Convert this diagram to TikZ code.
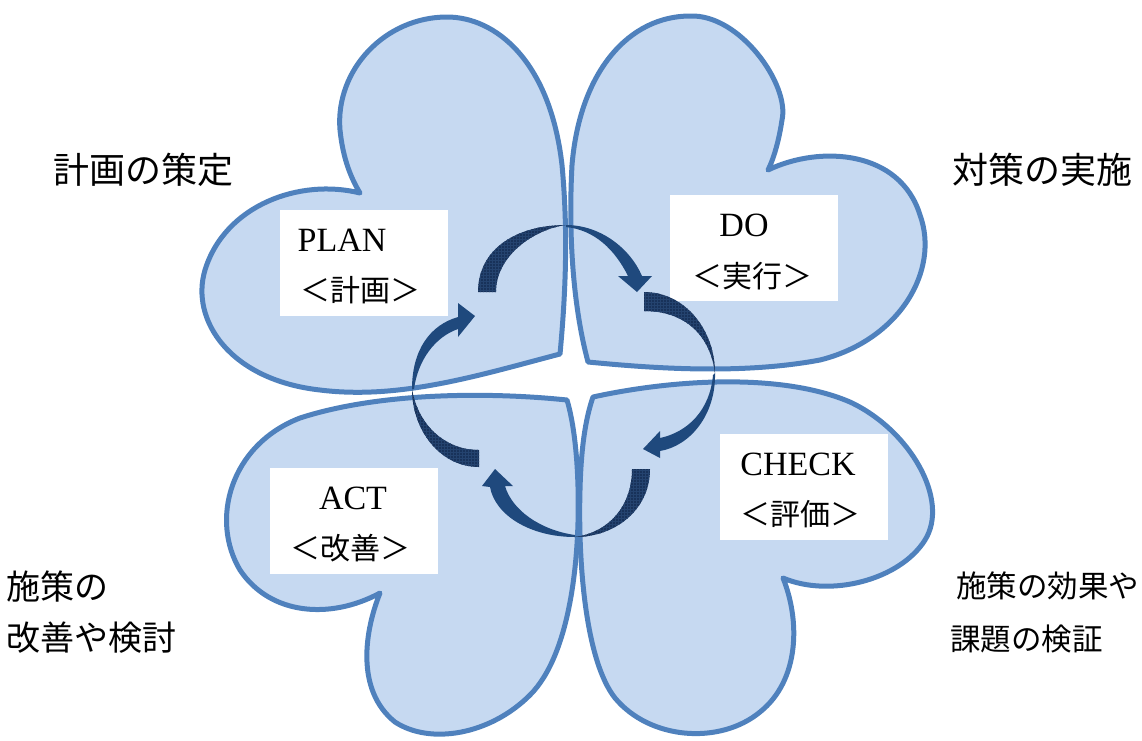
\documentclass[tikz,border=0pt]{standalone}
\usepackage{fontspec}
\setmainfont{Liberation Serif}
\newfontfamily\jp{Noto Sans CJK JP}
\usetikzlibrary{patterns}
\definecolor{heartfill}{HTML}{C6D9F1}
\definecolor{heartline}{HTML}{4F81BD}
\definecolor{arrowcol}{HTML}{1F497D}
\definecolor{tailbg}{HTML}{18325A}
\definecolor{tailgrid}{HTML}{24436F}
\newcommand{\hTL}{(560,354) .. controls (566,290) and (568,230) .. (562,165) .. controls (550,60) and (495,17) .. (447,17) .. controls (385,17) and (335,70) .. (340,130) .. controls (343,160) and (352,180) .. (360,193) .. controls (300,178) and (225,205) .. (205,270) .. controls (190,320) and (230,380) .. (320,390) .. controls (400,400) and (480,375) .. (560,354) -- cycle}
\newcommand{\hTR}{(588,362) .. controls (574,310) and (568,240) .. (572,165) .. controls (580,70) and (630,16) .. (690,16) .. controls (740,14) and (790,85) .. (782,120) .. controls (779,140) and (774,158) .. (768,170) .. controls (820,145) and (900,150) .. (920,215) .. controls (940,270) and (900,340) .. (820,360) .. controls (740,375) and (650,368) .. (588,362) -- cycle}
\newcommand{\hBL}{(567,400) .. controls (490,392) and (380,392) .. (300,418) .. controls (230,445) and (210,520) .. (240,570) .. controls (270,615) and (330,620) .. (380,593) .. controls (365,630) and (355,690) .. (395,722) .. controls (430,745) and (490,735) .. (530,695) .. controls (570,655) and (580,560) .. (578,487) .. controls (577,450) and (573,420) .. (567,400) -- cycle}
\newcommand{\hBR}{(593,397) .. controls (670,380) and (780,372) .. (850,402) .. controls (910,430) and (950,500) .. (925,540) .. controls (900,580) and (830,598) .. (783,578) .. controls (800,620) and (800,680) .. (760,712) .. controls (720,745) and (650,740) .. (615,698) .. controls (585,660) and (578,560) .. (580,490) .. controls (581,450) and (585,420) .. (593,397) -- cycle}
\begin{document}
\begin{tikzpicture}[x=1pt,y=-1pt,
  hfill/.style={fill=heartfill},
  hline/.style={draw=heartline, line width=5pt, line join=round},
  tailst/.style={fill=tailbg, postaction={pattern=grid, pattern color=tailgrid}},
  headst/.style={fill=arrowcol},
  boxst/.style={fill=white, inner sep=0pt, minimum width=168pt, minimum height=106pt},
  ttl/.style={font=\fontsize{34}{40}\selectfont, inner sep=0pt},
  subtxt/.style={font=\jp\fontsize{30}{36}\selectfont, inner sep=0pt},
  outlbl/.style={font=\jp\fontsize{36}{51}\selectfont, inner sep=0pt, align=left}]
\useasboundingbox (0,0) rectangle (1142,740);
% hearts: fills then outlines
\fill[hfill] \hTL;
\fill[hfill] \hTR;
\fill[hfill] \hBL;
\fill[hfill] \hBR;
\draw[hline] \hTL;
\draw[hline] \hTR;
\draw[hline] \hBL;
\draw[hline] \hBR;
% white label boxes
\node[boxst] (planbox) at (364,263) {};
\node[boxst] (dobox) at (754,248) {};
\node[boxst] (actbox) at (354,521) {};
\node[boxst] (checkbox) at (804,487) {};
\node[ttl] (plantitle) at (342,240) {PLAN};
\node[subtxt] (plansub) at (360,290) {＜計画＞};
\node[ttl] (dotitle) at (744,225) {DO};
\node[subtxt] (dosub) at (752,276) {＜実行＞};
\node[ttl] (acttitle) at (353,498) {ACT};
\node[subtxt] (actsub) at (350,548) {＜改善＞};
\node[ttl] (checktitle) at (798,464) {CHECK};
\node[subtxt] (checksub) at (800,514) {＜評価＞};
% outer labels
\node[outlbl] (plandesc) at (143,170) {計画の策定};
\node[outlbl] (dodesc) at (1042,170) {対策の実施};
\node[outlbl, font=\jp\fontsize{34}{51}\selectfont, anchor=west] (actdesc) at (6,612) {施策の\\改善や検討};
\node[outlbl, font=\jp\fontsize{30.5}{53}\selectfont, anchor=west] (checkdesc) at (950,612) {\hspace*{6pt}施策の効果や\\課題の検証};
% cycle arrows: top
\fill[tailst] (478,292) .. controls (478,250) and (515,225) .. (566,225) .. controls (535,229) and (496,255) .. (496,292) -- cycle;
\fill[headst] (566,225) .. controls (600,225) and (630,248) .. (642,276) -- (652,276) -- (637,292) -- (618,276) -- (628,276) .. controls (615,250) and (595,230) .. (566,227) -- cycle;
% right
\fill[tailst] (644,292) .. controls (685,292) and (715,330) .. (715,373) .. controls (710,335) and (685,311) .. (644,311) -- cycle;
\fill[headst] (715,373) .. controls (716,415) and (690,446) .. (660,451) -- (660,458) -- (643,449) -- (660,431) -- (660,438) .. controls (688,432) and (710,410) .. (713,375) -- cycle;
% bottom
\fill[tailst] (650,469) .. controls (650,510) and (615,537) .. (575,537) .. controls (610,532) and (632,505) .. (632,469) -- cycle;
\fill[headst] (575,537) .. controls (530,537) and (495,515) .. (490,487) -- (482,486) -- (495,469) -- (513,486) -- (505,486) .. controls (512,510) and (540,530) .. (575,535) -- cycle;
% left
\fill[tailst] (479,467) .. controls (440,467) and (412,430) .. (412,389) .. controls (418,425) and (445,450) .. (479,450) -- cycle;
\fill[headst] (412,389) .. controls (412,350) and (430,325) .. (458,317) -- (458,303) -- (475,316) -- (458,337) -- (458,329) .. controls (435,337) and (418,360) .. (414,389) -- cycle;
\end{tikzpicture}
\end{document}
